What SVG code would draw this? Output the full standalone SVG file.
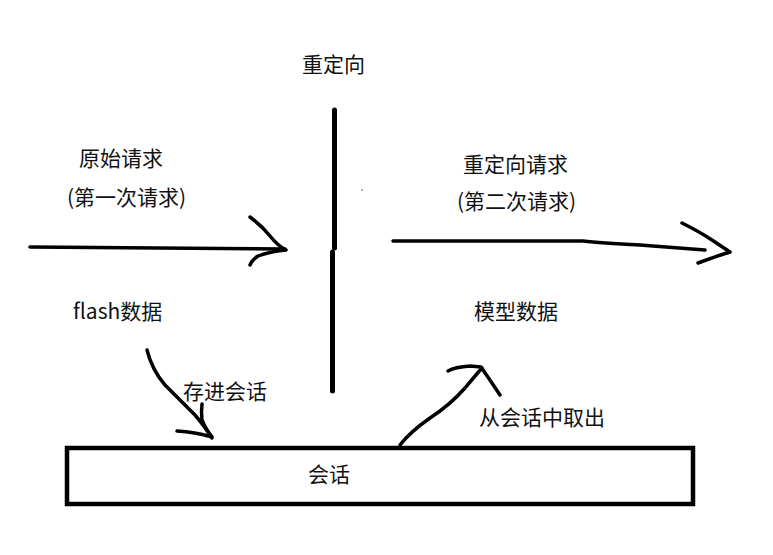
<svg xmlns="http://www.w3.org/2000/svg" width="773" height="555" viewBox="0 0 773 555">
<style>
.t{font-family:"Microsoft YaHei","Noto Sans CJK SC","Noto Sans",sans-serif;font-size:21px;fill:#111}
.s{fill:none;stroke:#000;stroke-width:3.5;stroke-linecap:round;stroke-linejoin:round}
</style>
<rect width="773" height="555" fill="#fff"/>
<g id="labels">
<text class="t" x="302" y="72">重定向</text>
<text class="t" x="79" y="166">原始请求</text>
<text class="t" x="67" y="205">(第一次请求)</text>
<text class="t" x="463" y="172">重定向请求</text>
<text class="t" x="457" y="209">(第二次请求)</text>
<text class="t" x="73" y="319">flash数据</text>
<text class="t" x="474" y="319">模型数据</text>
<text class="t" x="183" y="399">存进会话</text>
<text class="t" x="479" y="425">从会话中取出</text>
</g>
<g id="divider">
<path d="M334.5 110 L334.5 248" fill="none" stroke="#000" stroke-width="5" stroke-linecap="round"/>
<path d="M332.5 252 L332.5 391" fill="none" stroke="#000" stroke-width="5" stroke-linecap="round"/>
<circle cx="362" cy="190" r="0.8" fill="#555"/>
</g>
<g id="session">
<rect x="67" y="448" width="626" height="56" fill="none" stroke="#000" stroke-width="4.5"/>
<text class="t" x="308" y="482">会话</text>
</g>
<g id="connectors">
<path class="s" d="M30 247 L285 249"/>
<path class="s" d="M250 217 Q262 226 270 236 Q278 246 286 250 Q268 252 258 256 Q252 260 250 265"/>
<path class="s" d="M393 241 L583 241 Q600 243 640 245 L705 250"/>
<path class="s" d="M682 223 Q700 232 712 240 Q724 248 730 252 Q714 257 698 263"/>
<path class="s" d="M147 350 Q152 370 165 385 Q180 400 195 415 Q206 428 212 438"/>
<path class="s" d="M202 404 Q201 412 202 420 Q206 430 212 437 Q195 432 177 431"/>
<path class="s" d="M400 445 Q410 432 430 418 Q450 405 465 388 Q475 376 482 368"/>
<path class="s" d="M448 371 Q455 367 470 366 L481 367 Q490 380 500 395"/>
</g>
</svg>
